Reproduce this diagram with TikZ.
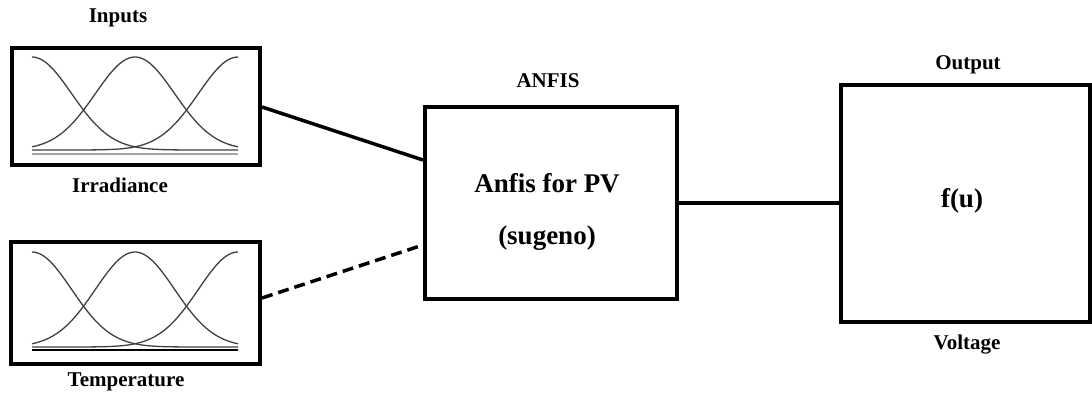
\documentclass[tikz,border=0pt]{standalone}
\usepackage{fontspec}
\setmainfont{Liberation Serif}
\begin{document}
\begin{tikzpicture}[x=1pt,y=-1pt,
  blk/.style={draw=black,line width=4pt,fill=white,inner sep=0pt},
  lbl/.style={font=\fontsize{21}{24}\selectfont\bfseries,inner sep=0pt},
  big/.style={font=\fontsize{27}{30}\selectfont\bfseries,inner sep=0pt},
  mf/.style={draw=black!75,line width=1.3pt,smooth,samples=60},
  conn/.style={line width=3.5pt}]
\useasboundingbox (0,0) rectangle (1092,396);
% boxes
\node[blk,minimum width=248pt,minimum height=117pt] (irr) at (136,106.5) {};
\node[blk,minimum width=249pt,minimum height=122pt] (tmp) at (135.5,303) {};
\node[blk,minimum width=252pt,minimum height=192pt] (anf) at (551,203) {};
\node[blk,minimum width=249pt,minimum height=237pt] (out) at (965.5,203.5) {};
% labels
\node[lbl] (inp) at (118,18) {Inputs};
\node[lbl] (irrl) at (120,185) {Irradiance};
\node[lbl] (tmpl) at (126,382) {Temperature};
\node[lbl] (anfl) at (548,81) {ANFIS};
\node[lbl] (outl) at (968,65) {Output};
\node[lbl] (voll) at (967,345) {Voltage};
\node[big] (t1) at (547,183) {Anfis for PV};
\node[big] (t2) at (547,238) {(sugeno)};
\node[big] (fu) at (962,201) {f(u)};
% membership functions, box 1
\draw[black!35,line width=2pt] (32,154) -- (238,154);
\draw[mf] plot[domain=32:238] (\x,{150-93*exp(-0.5*((\x-32)/39.6)^2)});
\draw[mf] plot[domain=32:238] (\x,{150-93*exp(-0.5*((\x-135)/39.6)^2)});
\draw[mf] plot[domain=32:238] (\x,{150-93*exp(-0.5*((\x-238)/39.6)^2)});
% membership functions, box 2
\draw[black,line width=1.3pt] (32,350) -- (238,350);
\draw[mf] plot[domain=32:238] (\x,{347-95*exp(-0.5*((\x-32)/39.6)^2)});
\draw[mf] plot[domain=32:238] (\x,{347-95*exp(-0.5*((\x-135)/39.6)^2)});
\draw[mf] plot[domain=32:238] (\x,{347-95*exp(-0.5*((\x-238)/39.6)^2)});
% connectors
\draw[conn] (irr.east |- 0,107) -- (anf.west |- 0,160);
\draw[conn,dash pattern=on 11pt off 6pt] (tmp.east |- 0,298) -- (anf.west |- 0,245);
\draw[conn] (anf.east |- 0,203) -- (out.west |- 0,203);
\end{tikzpicture}
\end{document}
